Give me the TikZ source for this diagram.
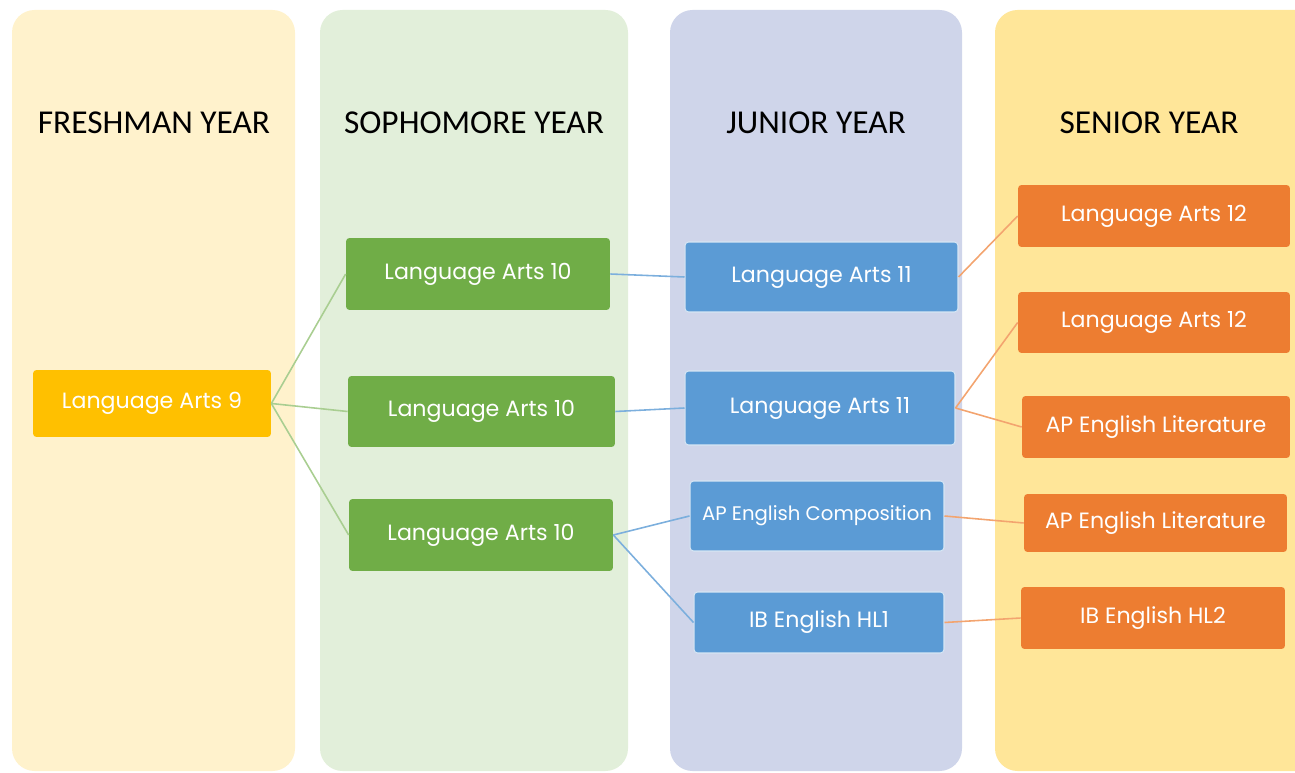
\documentclass[tikz,border=0pt]{standalone}
\usepackage{fontspec}
\setmainfont{Carlito}
\newfontfamily\boxfont{Poppins}
\usetikzlibrary{positioning}
\definecolor{freshbg}{HTML}{FFF2CC}
\definecolor{sophbg}{HTML}{E2EFDA}
\definecolor{junbg}{HTML}{CFD5EA}
\definecolor{senbg}{HTML}{FFE699}
\definecolor{freshc}{HTML}{FFC000}
\definecolor{sophc}{HTML}{70AD47}
\definecolor{junc}{HTML}{5B9BD5}
\definecolor{senc}{HTML}{ED7D31}
\tikzset{column/.style={rounded corners=0.45cm},
 title/.style={font=\fontsize{19}{22}\selectfont},
 course/.style={rounded corners=2pt, text=white, align=center,
   font=\boxfont\fontsize{12.6}{15}\selectfont, inner sep=0pt},
 narrow/.style={font=\boxfont\fontsize{11.2}{14}\selectfont},
 fresh/.style={course, fill=freshc},
 soph/.style={course, fill=sophc},
 jun/.style={course, fill=junc, draw=white!75!junc, line width=0.6pt},
 sen/.style={course, fill=senc},
 link/.style={line width=0.9pt},
 }

\begin{document}
\begin{tikzpicture}[x=0.02cm, y=-0.02cm]
        \useasboundingbox (0,0) rectangle (1295,773);
        \clip (0,0) rectangle (1295,773);
        % year columns
        \fill[column, freshbg] (12,10) rectangle (295,771);
        \fill[column, sophbg] (320,10) rectangle (628,771);
        \fill[column, junbg] (670,10) rectangle (962,771);
        \fill[column, senbg] (995,10) rectangle (1330,771);
        \node[title] (t9) at (154,123) {FRESHMAN YEAR};
        \node[title] (t10) at (474,123) {SOPHOMORE YEAR};
        \node[title] (t11) at (816,123) {JUNIOR YEAR};
        \node[title] (t12) at (1149,123) {SENIOR YEAR};
        % courses
        \node[fresh, minimum width=4.76cm, minimum height=1.34cm] (la9) at (152,403.5) {Language Arts 9};
        \node[soph, minimum width=5.28cm, minimum height=1.44cm] (la10a) at (478,274) {Language Arts 10};
        \node[soph, minimum width=5.34cm, minimum height=1.42cm] (la10b) at (481.5,411.5) {Language Arts 10};
        \node[soph, minimum width=5.28cm, minimum height=1.44cm] (la10c) at (481,535) {Language Arts 10};
        \node[jun, minimum width=5.46cm, minimum height=1.40cm] (la11a) at (821.5,277) {Language Arts 11};
        \node[jun, minimum width=5.40cm, minimum height=1.48cm] (la11b) at (820,408) {Language Arts 11};
        \node[jun, narrow, minimum width=5.08cm, minimum height=1.40cm] (apcomp) at (817,516) {AP English Composition};
        \node[jun, minimum width=5.00cm, minimum height=1.22cm] (ibone) at (819,622.5) {IB English HL1};
        \node[sen, minimum width=5.44cm, minimum height=1.24cm] (la12a) at (1154,216) {Language Arts 12};
        \node[sen, minimum width=5.44cm, minimum height=1.22cm] (la12b) at (1154,322.5) {Language Arts 12};
        \node[sen, minimum width=5.36cm, minimum height=1.24cm] (aplita) at (1156,427) {AP English Literature};
        \node[sen, minimum width=5.26cm, minimum height=1.16cm] (aplitb) at (1155.5,523) {AP English Literature};
        \node[sen, minimum width=5.28cm, minimum height=1.24cm] (ibtwo) at (1153,618) {IB English HL2};
        % links
        \foreach \t in {la10a, la10b, la10c} {
            \draw[link, sophc!60] (la9.east) -- (\t.west);
        }
        \draw[link, junc!80] (la10a.east) -- (la11a.west);
        \draw[link, junc!80] (la10b.east) -- (la11b.west);
        \draw[link, junc!80] (la10c.east) -- (apcomp.west);
        \draw[link, junc!80] (la10c.east) -- (ibone.west);
        \draw[link, senc!70] (la11a.east) -- (la12a.west);
        \draw[link, senc!70] (la11b.east) -- (la12b.west);
        \draw[link, senc!70] (la11b.east) -- (aplita.west);
        \draw[link, senc!70] (apcomp.east) -- (aplitb.west);
        \draw[link, senc!70] (ibone.east) -- (ibtwo.west);
    \end{tikzpicture}
\end{document}
